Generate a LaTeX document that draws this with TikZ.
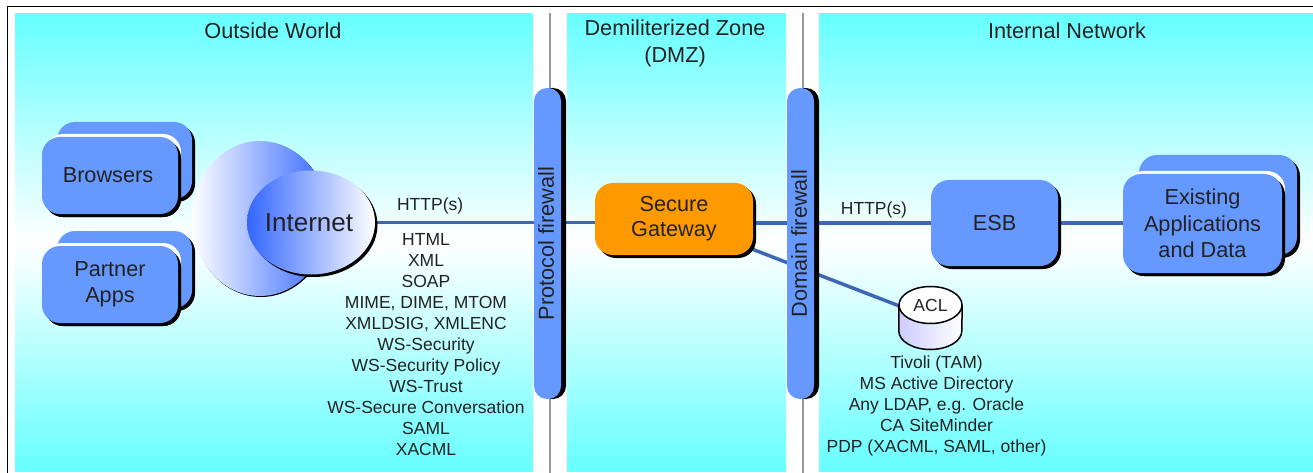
\documentclass[tikz,border=0pt]{standalone}
\usepackage{fontspec}
\setmainfont{Liberation Sans}
\usetikzlibrary{shapes}
\usetikzlibrary{shadows}
\usetikzlibrary{positioning}
\definecolor{panelCyan}{HTML}{66FFFF}
\definecolor{boxBlue}{HTML}{6699FF}
\definecolor{cloudBlue}{HTML}{3366FF}
\definecolor{gateOrange}{HTML}{FF9900}
\definecolor{wireBlue}{HTML}{3D66B5}
\definecolor{inkGray}{HTML}{222222}
\pgfdeclarelayer{panel}
\pgfdeclarelayer{wire}
\pgfsetlayers{panel,wire,main}

\begin{document}
\begin{tikzpicture}[x = 1pt, y = -1pt, auto, node distance = 100pt, text = inkGray]
\tikzset{
  bigFont/.style = {font = \fontsize{21.7}{26.5}\selectfont},
  smallFont/.style = {font = \fontsize{17.5}{21}\selectfont},
  zone/.style = {inner sep = 0pt, anchor = north west, minimum height = 457.5pt, top color = panelCyan, bottom color = panelCyan, middle color = white},
  title/.style = {bigFont, align = center},
  note/.style = {smallFont, align = center, inner sep = 0pt},
  darkShadow/.style = {general shadow = {shadow xshift = 3pt, shadow yshift = -3pt, fill = black}},
  whiteShadow/.style = {general shadow = {shadow xshift = 3pt, shadow yshift = 3pt, fill = white}},
  block/.style = {rectangle, rounded corners = 18pt, fill = boxBlue, inner sep = 0pt, bigFont, align = center, darkShadow},
  backBlock/.style = {block},
  frontBlock/.style = {block, whiteShadow, darkShadow},
  firewall/.style = {rectangle, rounded corners = 13pt, fill = boxBlue, inner sep = 0pt, bigFont, minimum width = 27pt, minimum height = 311pt, general shadow = {shadow xshift = 5pt, fill = black}},
  fence/.style = {draw = gray!80, line width = 2pt},
  wire/.style = {draw = wireBlue, line width = 3.5pt},
}
\useasboundingbox (0,0) rectangle (1313,473);
\begin{pgfonlayer}{panel}
  \node [zone, minimum width = 517.5pt] (outsideZone) at (15,13.5) {};
  \node [zone, minimum width = 219pt] (dmzZone) at (567,13.5) {};
  \node [zone, minimum width = 494pt] (internalZone) at (819,13.5) {};
\end{pgfonlayer}
\draw [line width = 1.5pt] (7.5,473) -- (7.5,6.5) -- (1313,6.5);

\node [title] (outsideTitle) at (273,31) {Outside World};
\node [title] (dmzTitle) at (675,43.5) {Demiliterized Zone\\(DMZ)};
\node [title] (internalTitle) at (1067,31) {Internal Network};

% left side
\node [backBlock, minimum width = 135pt, minimum height = 77pt] (browsersBack) at (124.5,160.5) {};
\node [frontBlock, minimum width = 136pt, minimum height = 77pt, xshift = -14.5pt, yshift = -15pt] (browsers) at (browsersBack) {\hspace*{-4pt}Browsers};
\node [backBlock, minimum width = 135pt, minimum height = 77pt, below of = browsersBack, node distance = 109pt] (partnerBack) {};
\node [frontBlock, minimum width = 136pt, minimum height = 77pt, below of = browsers, node distance = 109pt] (partnerApps) {Partner\\Apps};
\node [ellipse, minimum width = 136pt, minimum height = 155pt, inner sep = 0pt, left color = white, right color = cloudBlue, general shadow = {shadow xshift = 1pt, shadow yshift = -1pt, fill = black}] (cloud) at (260,218.5) {};
\node [ellipse, minimum width = 128pt, minimum height = 104pt, inner sep = 0pt, left color = cloudBlue, right color = white, general shadow = {shadow xshift = 2.5pt, shadow yshift = -2.5pt, fill = black}, font = \fontsize{26}{30}\selectfont] (internet) at (311,222.5) {\hspace*{-4pt}Internet};
\node [note] (protocolList) at (426,345) {HTML\\XML\\SOAP\\MIME, DIME, MTOM\\XMLDSIG, XMLENC\\WS-Security\\WS-Security Policy\\WS-Trust\\WS-Secure Conversation\\SAML\\XACML};

% firewalls
\draw [fence] (550,13.5) -- (550,473);
\draw [fence] (803,13.5) -- (803,473);
\node [firewall] (protocolFirewall) at (547.5,243.5) {\hspace*{-3pt}\rotatebox{90}{Protocol firewall}};
\node [firewall] (domainFirewall) at (800.5,243.5) {\hspace*{-3pt}\rotatebox{90}{Domain firewall}};

% middle and right side
\node [block, fill = gateOrange, minimum width = 158pt, minimum height = 72pt, font = \fontsize{21.7}{25}\selectfont] (secureGateway) at (674,219) {Secure\\Gateway};
\node [block, minimum width = 127pt, minimum height = 86pt] (esb) at (994.5,223) {ESB};
\node [backBlock, minimum width = 158pt, minimum height = 100pt] (appsBack) at (1218,205) {};
\node [frontBlock, minimum width = 159pt, minimum height = 99pt, xshift = -15.5pt, yshift = -18.5pt] (existingApps) at (appsBack) {Existing\\Applications\\and Data};
\node [minimum width = 63pt, minimum height = 63pt, inner sep = 0pt] (aclStore) at (930.5,318) {};
\draw [line width = 1.5pt, left color = blue!20, right color = white] ([yshift = 13pt]aclStore.west) -- ([yshift = -13pt]aclStore.west) arc (180:360:31.5pt and 18.5pt) -- ([yshift = 13pt]aclStore.east);
\draw [line width = 1.5pt, fill = white] ([yshift = 13pt]aclStore.center) ellipse (31.5pt and 18.5pt);
\node [above of = aclStore, node distance = 13pt, smallFont, inner sep = 0pt] (aclLabel) {ACL};
\node [note, below of = aclStore, node distance = 88pt, xshift = 6pt] (directoryList) {Tivoli (TAM)\\MS Active Directory\\Any LDAP, e.g. Oracle\\CA SiteMinder\\PDP (XACML, SAML, other)};

\begin{pgfonlayer}{wire}
  \draw [wire] (internet.east) -- node [pos = .25, above, smallFont, yshift = 3pt] (leftHttp) {HTTP(s)} (internet.east -| secureGateway.west);
  \draw [wire] (esb.west -| secureGateway.east) -- node [pos = .68, above, smallFont] (rightHttp) {HTTP(s)} (esb.west);
  \draw [wire] (esb.east) -- (esb.east -| existingApps.west);
  \draw [wire] (secureGateway) -- (aclStore);
\end{pgfonlayer}
\end{tikzpicture}
\end{document}
